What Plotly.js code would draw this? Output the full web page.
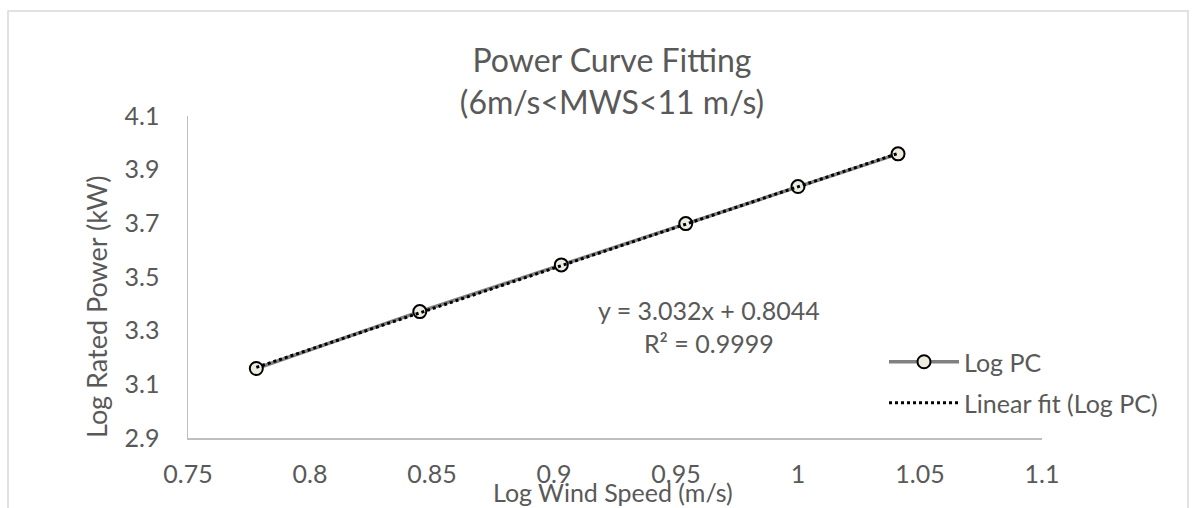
<!DOCTYPE html>
<html>
<head>
<meta charset="utf-8">
<script src="https://cdn.plot.ly/plotly-3.0.1.min.js"></script>
<style>
html,body{margin:0;padding:0;background:#fff;}
#chart{width:1196px;height:508px;}
</style>
</head>
<body>
<div id="chart"></div>
<script>
// Data
const logWindSpeed = [0.778, 0.845, 0.903, 0.954, 1.0, 1.041];
const logRatedPower = [3.159, 3.371, 3.545, 3.699, 3.837, 3.959];
const fitSlope = 3.032;
const fitIntercept = 0.8044;
const fitR2 = 0.9999;
const xTickVals = [0.75, 0.8, 0.85, 0.9, 0.95, 1, 1.05, 1.1];
const xTickText = ["0.75", "0.8", "0.85", "0.9", "0.95", "1", "1.05", "1.1"];
const yTickVals = [2.9, 3.1, 3.3, 3.5, 3.7, 3.9, 4.1];
const yTickText = ["2.9", "3.1", "3.3", "3.5", "3.7", "3.9", "4.1"];

const FONT = "Lato, 'Open Sans', sans-serif";
const TXT = "#595959";

const fitX = [logWindSpeed[0], logWindSpeed[logWindSpeed.length - 1]];
const fitY = fitX.map(x => fitSlope * x + fitIntercept);

const traces = [
  {
    x: logWindSpeed, y: logRatedPower, type: "scatter", mode: "lines+markers",
    name: "Log PC", legend: "legend",
    line: {color: "#808080", width: 3.5},
    marker: {symbol: "circle", size: 13, color: "#eeece1", line: {color: "#000000", width: 2}}
  },
  {
    x: fitX, y: fitY, type: "scatter", mode: "lines",
    name: "Linear fit (Log PC)", legend: "legend2",
    line: {color: "#000000", width: 3, dash: "dot"}
  }
];

const L = 188, R = 154, T = 116, B = 70, W = 1196, H = 508;
const pw = W - L - R, ph = H - T - B;
const px = v => (v - L) / pw;
const py = v => (H - B - v) / ph;

const layout = {
  width: W, height: H,
  margin: {l: L, r: R, t: T, b: B, pad: 0},
  paper_bgcolor: "#ffffff", plot_bgcolor: "#ffffff",
  font: {family: FONT, color: TXT, size: 25},
  title: {
    text: "Power Curve Fitting<br>(6m/s<MWS<11 m/s)",
    font: {family: FONT, size: 32, color: TXT},
    xref: "container", x: 612 / W, xanchor: "center",
    yref: "container", y: (H - 72) / H, yanchor: "middle"
  },
  xaxis: {
    range: [0.75, 1.1], tickvals: xTickVals, ticktext: xTickText,
    showgrid: false, zeroline: false, showline: true, linecolor: "#bfbfbf", linewidth: 1.5,
    ticks: "", ticklabelstandoff: 13,
    tickfont: {family: FONT, size: 25, color: TXT}, automargin: false, fixedrange: true
  },
  yaxis: {
    range: [2.9, 4.1], tickvals: yTickVals, ticktext: yTickText,
    showgrid: false, zeroline: false, showline: true, linecolor: "#bfbfbf", linewidth: 1.5,
    ticks: "", ticklabelstandoff: 22,
    tickfont: {family: FONT, size: 25, color: TXT}, automargin: false, fixedrange: true
  },
  showlegend: true,
  legend: {
    x: px(884), xanchor: "left", y: py(362), yanchor: "middle",
    bgcolor: "rgba(0,0,0,0)", itemwidth: 70,
    font: {family: FONT, size: 25, color: TXT}
  },
  legend2: {
    x: px(884), xanchor: "left", y: py(403), yanchor: "middle",
    bgcolor: "rgba(0,0,0,0)", itemwidth: 70,
    font: {family: FONT, size: 25, color: TXT}
  },
  annotations: [
    {
      text: "y = " + fitSlope + "x + " + fitIntercept + "<br>R² = " + fitR2,
      xref: "paper", yref: "paper", x: px(709), y: py(326),
      xanchor: "center", yanchor: "middle", showarrow: false, align: "center",
      font: {family: FONT, size: 25, color: TXT}
    },
    {
      text: "Log Wind Speed (m/s)",
      xref: "paper", yref: "paper", x: px(613), y: py(492),
      xanchor: "center", yanchor: "middle", showarrow: false,
      font: {family: FONT, size: 25, color: TXT}
    },
    {
      text: "Log Rated Power (kW)",
      xref: "paper", yref: "paper", x: px(96), y: py(307),
      xanchor: "center", yanchor: "middle", showarrow: false, textangle: -90,
      font: {family: FONT, size: 27, color: TXT}
    }
  ],
  shapes: [
    {
      type: "rect", xref: "paper", yref: "paper",
      x0: px(8), x1: px(1188), y0: py(530), y1: py(11),
      line: {color: "#d9d9d9", width: 1.5}, fillcolor: "rgba(0,0,0,0)", layer: "below"
    }
  ]
};

Plotly.newPlot("chart", traces, layout, {displayModeBar: false, staticPlot: true});
</script>
</body>
</html>
